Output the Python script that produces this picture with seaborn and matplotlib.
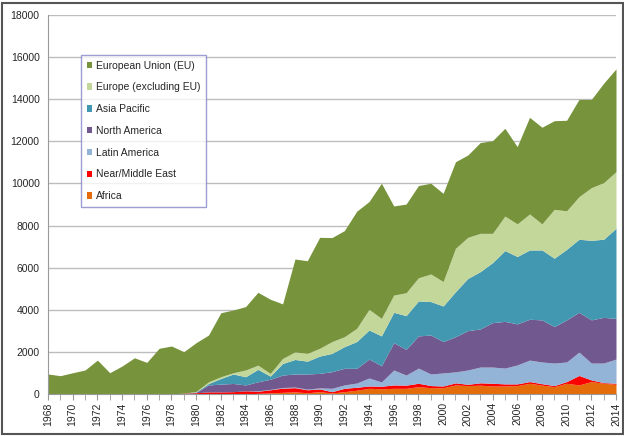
import numpy as np
import matplotlib
matplotlib.use("Agg")
import matplotlib.pyplot as plt
import seaborn as sns
from matplotlib.patches import Rectangle

# === Data ===
years = list(range(1968, 2015))

africa = [0] * 17 + [
    30, 50, 80, 100, 60, 110, 50, 110, 180, 270,
    250, 270, 270, 350, 300, 300, 430, 400, 420, 380,
    380, 400, 510, 420, 350, 510, 430, 590, 510, 460]

near_middle_east = [0] * 11 + [
    40, 60, 100, 100, 110, 150, 100, 150, 200, 200,
    140, 130, 60, 160, 140, 110, 120, 160, 150, 160,
    100, 80, 100, 60, 110, 130, 100, 80, 80, 70,
    50, 80, 450, 80, 30, 50]

latin_america = [0] * 17 + [
    20, 20, 30, 30, 30, 50, 160, 160, 200, 380,
    200, 710, 480, 720, 550, 620, 520, 680, 750, 770,
    750, 900, 1020, 1030, 1070, 930, 1110, 800, 930, 1150]

north_america = [0] * 12 + [
    20, 330, 370, 390, 280, 430, 480, 590, 620, 720,
    690, 790, 790, 700, 900, 770, 1300, 1220, 1530, 1850,
    1490, 1670, 1870, 1810, 2110, 2220, 1950, 1940, 2000, 1730,
    2000, 1890, 2050, 2170, 1930]

asia_pacific = [0] * 12 + [
    20, 70, 270, 450, 390, 590, 150, 550, 690, 610,
    820, 870, 1030, 1270, 1380, 1420, 1440, 1600, 1660, 1590,
    1690, 2140, 2480, 2720, 2850, 3360, 3200, 3290, 3320, 3250,
    3350, 3470, 3780, 3710, 4280]

europe_non_eu = [0] * 12 + [
    20, 80, 80, 60, 320, 200, 130, 240, 360, 370,
    370, 560, 470, 630, 980, 830, 820, 1090, 1100, 1310,
    1160, 2060, 1950, 1820, 1390, 1640, 1550, 1710, 1240, 2320,
    1830, 2020, 2500, 2690, 2690]

european_union = [
    950, 870, 1010, 1140, 1610, 1010, 1330, 1720, 1500, 2170,
    2280, 1970, 2320, 2220, 3040, 2980, 3010, 3460, 3520, 2590,
    4410, 4400, 5270, 4940, 5040, 5560, 5120, 6420, 4230, 4210,
    4380, 4310, 4190, 4110, 3910, 4310, 4400, 4170, 3670, 4590,
    4590, 4210, 4300, 4620, 4190, 4720, 4880]

labels = ["Africa", "Near/Middle East", "Latin America", "North America",
          "Asia Pacific", "Europe (excluding EU)", "European Union (EU)"]
colors = ["#E46C0A", "#FF0000", "#93B3D7", "#71588F",
          "#4298B1", "#C4D79B", "#77933C"]

# === Plot ===
sns.set_style("white")
plt.rcParams['font.family'] = ['Liberation Sans', 'DejaVu Sans']

fig = plt.figure(figsize=(6.24, 4.36), dpi=100)
ax = fig.add_axes([48 / 624, 1 - 394 / 436, 568 / 624, 379 / 436])

ax.stackplot(years, africa, near_middle_east, latin_america, north_america,
             asia_pacific, europe_non_eu, european_union,
             labels=labels, colors=colors, linewidth=0)

ax.set_xlim(1968, 2014)
ax.set_ylim(0, 18000)
ax.set_yticks(range(0, 18001, 2000))
ax.set_xticks(years, minor=True)
ax.set_xticks(range(1968, 2015, 2))
ax.tick_params(axis='x', which='both', direction='out', length=4, color='#999999',
               labelsize=7.5, labelrotation=90, bottom=True, pad=2)
ax.tick_params(axis='y', length=0, labelsize=7.5, pad=6)
ax.yaxis.grid(True, color='#bdbdbd', linewidth=1)
ax.set_axisbelow(True)
for side in ['top', 'right']:
    ax.spines[side].set_visible(False)
ax.spines['left'].set_color('#999999')
ax.spines['bottom'].set_color('#999999')

handles, lbls = ax.get_legend_handles_labels()
leg = ax.legend(handles[::-1], lbls[::-1], loc='upper left',
                bbox_to_anchor=(0.058, 0.895), fontsize=7.5, frameon=True,
                fancybox=False, edgecolor='#8585c8', handlelength=0.55,
                handleheight=0.55, handletextpad=0.3, labelspacing=1.13,
                borderpad=0.55, borderaxespad=0)
leg.get_frame().set_linewidth(1)

# outer border of the chart
fig.patches.append(Rectangle((0.004, 0.004), 0.995, 0.99, transform=fig.transFigure,
                             fill=False, edgecolor='#555555', linewidth=1.5))

fig.savefig("out.png", dpi=100)
